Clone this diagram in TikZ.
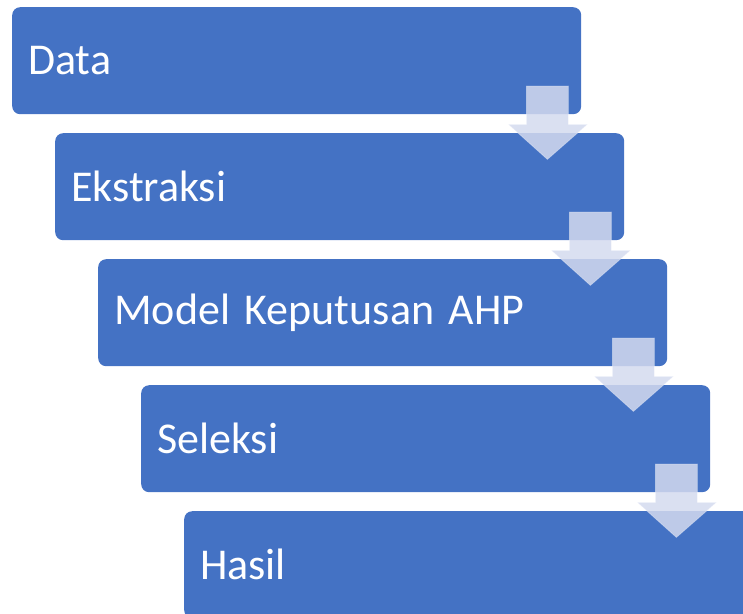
\documentclass[tikz,border=0pt]{standalone}
\usepackage{fontspec}
\setmainfont{Carlito}
\usetikzlibrary{calc}
\definecolor{boxblue}{RGB}{68,114,196}
\definecolor{arrowcol}{RGB}{212,218,239}
\tikzset{
  stepbox/.style={anchor=north west, fill=boxblue, rounded corners=8pt,
    minimum height=107pt, inner xsep=16pt, inner ysep=0pt, text width=537pt,
    align=left, text=white, font=\fontsize{44}{50}\selectfont},
  downarrow/.style={fill=arrowcol, fill opacity=0.85, draw=white, draw opacity=0.3, line width=0.8pt}
}
\begin{document}
\begin{tikzpicture}[x=1pt,y=-1pt]
\useasboundingbox (0,0) rectangle (743,613);
\clip (0,0) rectangle (743,613);
\node[stepbox] (b1) at (12,7) {Data};
\node[stepbox] (b2) at (55,133) {Ekstraksi};
\node[stepbox] (b3) at (98,259) {Model Keputusan AHP};
\node[stepbox] (b4) at (141,385) {Seleksi};
\node[stepbox] (b5) at (184,511) {Hasil};
\foreach \i in {1,2,3,4}{
  \path[downarrow] let \p1=(b\i.north east), \p2=(b\i.south east) in
    (\x1-55pt,\y1-79pt) -- (\x1-13pt,\y1-79pt) -- (\x1-13pt,\y2-10pt) --
    (\x1+6pt,\y2-10pt) -- (\x1-34pt,\y2-45pt) -- (\x1-73pt,\y2-10pt) --
    (\x1-55pt,\y2-10pt) -- cycle;
}
\end{tikzpicture}
\end{document}
